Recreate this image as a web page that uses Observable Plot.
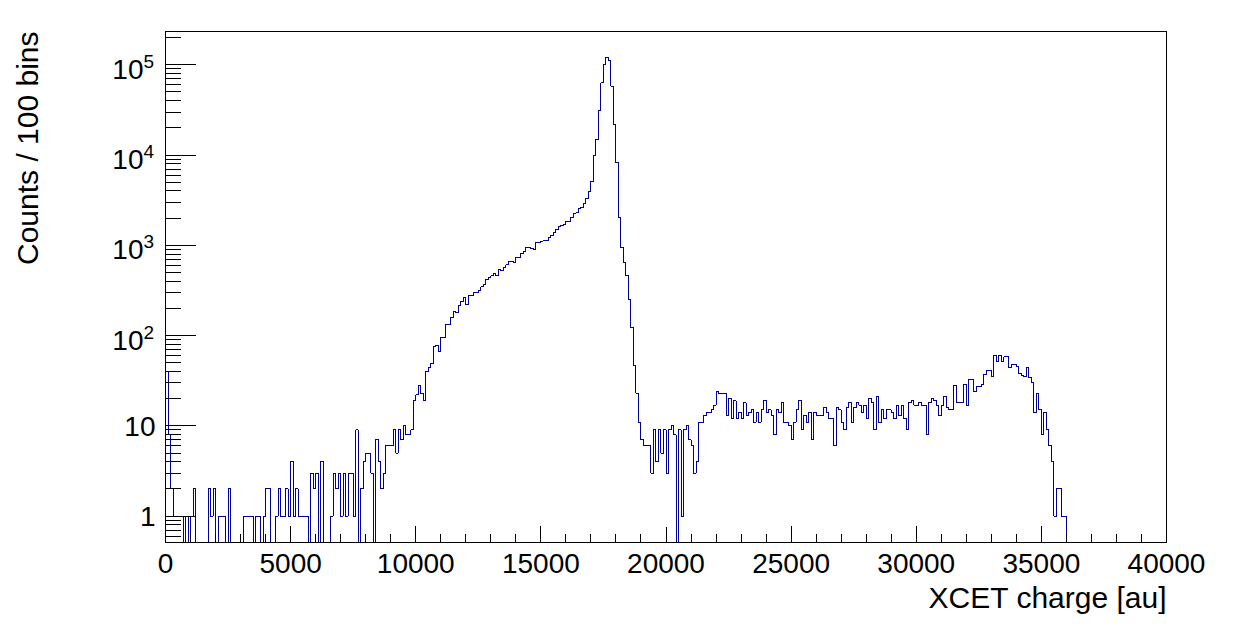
<!DOCTYPE html>
<html>
<head>
<meta charset="utf-8">
<script src="https://cdn.jsdelivr.net/npm/d3@7"></script>
<script src="https://cdn.jsdelivr.net/npm/@observablehq/plot@0.6"></script>
<style>
html, body { margin: 0; padding: 0; background: #ffffff; }
#chart svg { display: block; }
.hist path { shape-rendering: crispEdges; }
.ticks path { shape-rendering: crispEdges; }
</style>
</head>
<body>
<div id="chart"></div>
<script>
// ---- data ----
const binWidth = 100;
const xDomain = [0, 40000];
const yDomain = [0.51, 2.34e5];

// counts per 100-unit bin, bins 0 .. 399
const counts = [
  40, 8, 2, 1, 1, 1, 1, 0, 1, 0, 1, 2, 0, 0, 0, 0, 0, 2, 1, 2,
  0, 1, 1, 1, 0, 2, 0, 0, 0, 0, 0, 1, 1, 1, 1, 0, 1, 1, 0, 1,
  2, 2, 0, 0, 1, 2, 1, 1, 2, 1, 4, 1, 2, 1, 1, 1, 1, 0, 3, 2,
  3, 0, 4, 0, 0, 0, 1, 3, 2, 3, 1, 3, 1, 3, 3, 1, 9, 0, 2, 4,
  5, 5, 3, 0, 7, 4, 2, 3, 6, 6, 6, 9, 5, 9, 7, 10, 8, 8, 9, 19,
  22, 28, 23, 19, 40, 44, 49, 76, 77, 66, 95, 95, 134, 134, 158, 184, 180, 213, 238, 264,
  219, 275, 278, 299, 299, 312, 346, 370, 421, 438, 458, 485, 458, 542, 520, 566, 606, 670, 670, 653,
  742, 730, 807, 865, 940, 940, 917, 902, 1069, 1069, 1116, 1135, 1135, 1236, 1290, 1380, 1503, 1634, 1663, 1707,
  1857, 1828, 2020, 2237, 2290, 2565, 2652, 2913, 3300, 3990, 5150, 9800, 14900, 31000, 63000, 100000, 121000, 112000, 58000, 21800,
  8200, 2020, 940, 641, 458, 253, 123, 47, 23, 11, 7, 6, 6, 6, 3, 9, 4, 9, 5, 9,
  3, 9, 10, 8, 0, 9, 1, 9, 10, 7, 6, 3, 4, 11, 11, 13, 14, 14, 15, 17,
  24, 23, 23, 23, 13, 20, 12, 19, 12, 14, 12, 18, 13, 14, 15, 11, 14, 11, 15, 19,
  14, 15, 13, 8, 15, 14, 18, 11, 11, 10, 7, 11, 15, 19, 9, 13, 11, 14, 7, 14,
  13, 13, 13, 16, 14, 12, 12, 6, 16, 15, 11, 9, 16, 18, 11, 16, 18, 17, 14, 17,
  12, 20, 18, 9, 21, 11, 15, 12, 15, 15, 14, 12, 17, 13, 17, 12, 9, 18, 19, 17,
  17, 18, 17, 17, 8, 18, 20, 19, 17, 13, 17, 21, 16, 15, 15, 28, 18, 18, 18, 29,
  17, 33, 33, 24, 27, 27, 29, 37, 41, 41, 35, 60, 52, 60, 52, 58, 58, 44, 48, 48,
  46, 38, 36, 35, 44, 34, 30, 14, 23, 15, 8, 14, 9, 6, 4, 1, 2, 2, 1, 1,
  0, 0, 0, 0, 0, 0, 0, 0, 0, 0, 0, 0, 0, 0, 0, 0, 0, 0, 0, 0,
  0, 0, 0, 0, 0, 0, 0, 0, 0, 0, 0, 0, 0, 0, 0, 0, 0, 0, 0, 0
];

const xMajorTicks = [0, 5000, 10000, 15000, 20000, 25000, 30000, 35000, 40000];
const xTickLabels = ["0", "5000", "10000", "15000", "20000", "25000", "30000", "35000", "40000"];
const xMinorTicks = [1000, 2000, 3000, 4000, 6000, 7000, 8000, 9000, 11000, 12000, 13000, 14000,
  16000, 17000, 18000, 19000, 21000, 22000, 23000, 24000, 26000, 27000, 28000, 29000,
  31000, 32000, 33000, 34000, 36000, 37000, 38000, 39000];

const yMajorTicks = [1, 10, 100, 1000, 10000, 100000];
const yMinorTicks = [0.6, 0.7, 0.8, 0.9,
  2, 3, 4, 5, 6, 7, 8, 9,
  20, 30, 40, 50, 60, 70, 80, 90,
  200, 300, 400, 500, 600, 700, 800, 900,
  2000, 3000, 4000, 5000, 6000, 7000, 8000, 9000,
  20000, 30000, 40000, 50000, 60000, 70000, 80000, 90000,
  200000];
const yPlainLabels = [{v: 1, label: "1"}, {v: 10, label: "10"}];
const yPowerLabels = [{v: 100, base: "10", exp: "2"}, {v: 1000, base: "10", exp: "3"},
  {v: 10000, base: "10", exp: "4"}, {v: 100000, base: "10", exp: "5"}];

const xTitle = "XCET charge [au]";
const yTitle = "Counts / 100 bins";

// ---- build histogram outline (zero bins drop to the frame floor as in ROOT) ----
const hist = counts.map((c, i) => ({x: i * binWidth, y: c > 0 ? c : yDomain[0]}));
hist.push({x: xDomain[1], y: hist[hist.length - 1].y});

const font = "'Liberation Sans', Arial, Helvetica, sans-serif";
const tickShape = {draw(context, l) { context.moveTo(0, 0); context.lineTo(0, -l); }};

const chart = Plot.plot({
  width: 1250,
  height: 639,
  marginLeft: 165,
  marginRight: 84,
  marginTop: 31,
  marginBottom: 97,
  style: {fontFamily: font, background: "#ffffff", color: "#000000", overflow: "visible"},
  x: {type: "linear", domain: xDomain, axis: null},
  y: {type: "log", domain: yDomain, axis: null},
  marks: [
    Plot.line(hist, {x: "x", y: "y", curve: "step-after", stroke: "#000099", strokeWidth: 1, clip: true, className: "hist"}),
    Plot.frame({stroke: "#000000", strokeWidth: 1}),
    // y ticks, drawn inward as ROOT does
    Plot.vector(yMajorTicks, {y: d => d, frameAnchor: "left", length: 30, rotate: 90, anchor: "start", shape: tickShape, stroke: "#000000", strokeWidth: 1, className: "ticks"}),
    Plot.vector(yMinorTicks, {y: d => d, frameAnchor: "left", length: 15, rotate: 90, anchor: "start", shape: tickShape, stroke: "#000000", strokeWidth: 1, className: "ticks"}),
    // x ticks
    Plot.vector(xMajorTicks, {x: d => d, frameAnchor: "bottom", length: 16, rotate: 0, anchor: "start", shape: tickShape, stroke: "#000000", strokeWidth: 1, className: "ticks"}),
    Plot.vector(xMinorTicks, {x: d => d, frameAnchor: "bottom", length: 8, rotate: 0, anchor: "start", shape: tickShape, stroke: "#000000", strokeWidth: 1, className: "ticks"}),
    // y tick labels
    Plot.text(yPlainLabels, {y: "v", text: "label", frameAnchor: "left", dx: -10, dy: 1, textAnchor: "end", lineAnchor: "middle", fontSize: 28, fill: "#000000"}),
    Plot.text(yPowerLabels, {y: "v", text: "base", frameAnchor: "left", dx: -22, dy: 5, textAnchor: "end", lineAnchor: "middle", fontSize: 28, fill: "#000000"}),
    Plot.text(yPowerLabels, {y: "v", text: "exp", frameAnchor: "left", dx: -22, dy: -3, textAnchor: "start", lineAnchor: "middle", fontSize: 19, fill: "#000000"}),
    // x tick labels
    Plot.text(xMajorTicks, {x: d => d, text: (d, i) => xTickLabels[i], frameAnchor: "bottom", dy: 11, lineAnchor: "top", textAnchor: "middle", fontSize: 28, fill: "#000000"}),
    // axis titles
    Plot.text([xTitle], {text: d => d, frameAnchor: "bottom-right", dx: 0, dy: 56, textAnchor: "end", lineAnchor: "middle", fontSize: 30, fill: "#000000"}),
    Plot.text([yTitle], {text: d => d, frameAnchor: "top-left", dx: -137, dy: 0, rotate: -90, textAnchor: "end", lineAnchor: "middle", fontSize: 30, fill: "#000000"})
  ]
});

document.getElementById("chart").appendChild(chart);
</script>
</body>
</html>
